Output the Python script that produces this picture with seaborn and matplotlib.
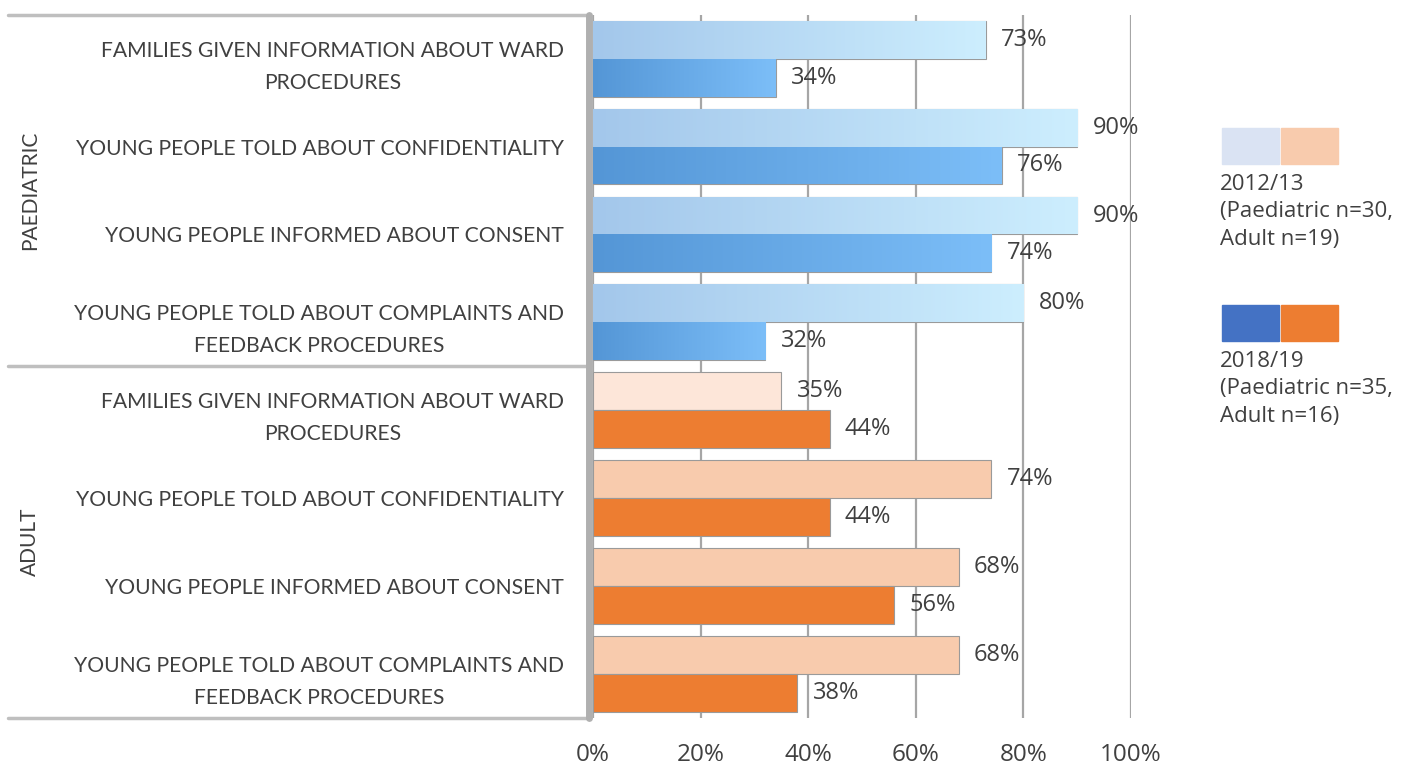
import numpy as np
import pandas as pd
import seaborn as sns
import matplotlib.pyplot as plt
from matplotlib.lines import Line2D
from matplotlib.patches import Rectangle
from matplotlib.colors import to_rgb

# ---- data ----
items = ["FAMILIES GIVEN INFORMATION ABOUT WARD\nPROCEDURES",
         "YOUNG PEOPLE TOLD ABOUT CONFIDENTIALITY",
         "YOUNG PEOPLE INFORMED ABOUT CONSENT",
         "YOUNG PEOPLE TOLD ABOUT COMPLAINTS AND\nFEEDBACK PROCEDURES"]
groups = ["PAEDIATRIC", "ADULT"]
years = ["2012/13", "2018/19"]
paed_2012 = [0.73, 0.90, 0.90, 0.80]
paed_2018 = [0.34, 0.76, 0.74, 0.32]
adult_2012 = [0.35, 0.74, 0.68, 0.68]
adult_2018 = [0.44, 0.44, 0.56, 0.38]
legend_labels = ["2012/13\n(Paediatric n=30,\nAdult n=19)",
                 "2018/19\n(Paediatric n=35,\nAdult n=16)"]
xticks = [0, 0.2, 0.4, 0.6, 0.8, 1.0]

rows = []
for g, a, b in [("PAEDIATRIC", paed_2012, paed_2018), ("ADULT", adult_2012, adult_2018)]:
    for it, v1, v2 in zip(items, a, b):
        rows.append((g, it, years[0], v1))
        rows.append((g, it, years[1], v2))
df = pd.DataFrame(rows, columns=["group", "item", "year", "value"])

sns.set_style("white")
plt.rcParams["font.family"] = ["Open Sans", "DejaVu Sans"]
TXT = "#404040"
GRID = "#A6A6A6"

W, H = 1413, 765
fig = plt.figure(figsize=(W / 100, H / 100), dpi=100)

def fx(px):
    return px / W

def fy(py):
    return 1 - py / H

# gradient colours for the bars (left -> right)
grads = {
    "PAEDIATRIC": [("#A3C7EB", "#CDEEFE"), ("#5496D6", "#7CBEF8")],
    "ADULT": [("#F8CBAD", "#F8CBAD"), ("#ED7D31", "#ED7D31")],
}

x0, x1 = 593, 1131
bands = [(15, 366), (366, 718)]
axes = []
for g, (top, bot) in zip(groups, bands):
    ax = fig.add_axes([fx(x0), fy(bot), fx(x1) - fx(x0), (bot - top) / H])
    d = df[df.group == g]
    cols = [c[0] for c in grads[g]]
    sns.barplot(data=d, x="value", y="item", hue="year", hue_order=years, order=items,
                palette=cols, saturation=1, orient="h", width=0.86, errorbar=None,
                legend=False, edgecolor="#9A9A9A", linewidth=0.8, ax=ax)
    ax.set_xlim(0, 1)
    ylim = ax.get_ylim()
    # gradient fill clipped to each bar
    for ci, cont in enumerate(ax.containers):
        c1, c2 = grads[g][ci]
        for k, p in enumerate(cont.patches):
            if g == "ADULT" and ci == 0 and k == 0:
                p.set_facecolor("#FDE6D9")
            if c1 != c2:
                grad = np.linspace(0, 1, 256)
                img = np.array([to_rgb(c1)]) * (1 - grad[:, None]) + np.array([to_rgb(c2)]) * grad[:, None]
                bx, by, bw, bh = p.get_x(), p.get_y(), p.get_width(), p.get_height()
                im = ax.imshow(img[None, :, :], extent=[bx, bx + bw, by + bh, by],
                               aspect="auto", zorder=p.get_zorder() + 0.1)
                im.set_clip_path(p)
        ax.bar_label(cont, labels=[f"{v * 100:.0f}%" for v in cont.datavalues],
                     padding=11, fontsize=17, color=TXT, family="Open Sans")
    ax.set_xlim(0, 1)
    ax.set_ylim(ylim)
    ax.set_axisbelow(True)
    ax.xaxis.grid(True, color=GRID, linewidth=1.6)
    ax.set_xticks(xticks)
    for s in ax.spines.values():
        s.set_visible(False)
    ax.set_xlabel("")
    ax.set_ylabel("")
    ax.tick_params(axis="y", length=0, pad=21)
    for t in ax.get_yticklabels():
        t.set_fontfamily("Lato")
        t.set_fontsize(15.2)
        t.set_color(TXT)
        t.set_multialignment("center")
        t.set_linespacing(1.75)
    axes.append(ax)
    fig.text(fx(30), fy((top + bot) / 2), g, rotation=90, ha="center", va="center",
             fontsize=15, color=TXT, family="Lato")

axes[0].tick_params(axis="x", length=0, labelbottom=False)
axes[1].tick_params(axis="x", length=0, pad=18, labelsize=17.5, labelcolor=TXT)
axes[1].set_xticklabels([f"{t * 100:.0f}%" for t in xticks])

# frame lines of the category area
for yy in [15, 366, 718]:
    fig.add_artist(Line2D([fx(8), fx(590)], [fy(yy), fy(yy)], color="#BFBFBF", lw=2.5))
fig.add_artist(Line2D([fx(589), fx(589)], [fy(15), fy(718)], color="#B0B0B0", lw=5))

# legend
sw = [("#DAE3F3", "#F8CBAD"), ("#4472C4", "#ED7D31")]
for (ca, cb), lab, top in zip(sw, legend_labels, [128, 305]):
    fig.add_artist(Rectangle((fx(1222), fy(top + 36)), fx(57), 36 / H, color=ca))
    fig.add_artist(Rectangle((fx(1281), fy(top + 36)), fx(57), 36 / H, color=cb))
    fig.text(fx(1220), fy(top + 46), lab, ha="left", va="top", fontsize=16,
             color=TXT, linespacing=1.4)

fig.savefig("out.png", dpi=100)
